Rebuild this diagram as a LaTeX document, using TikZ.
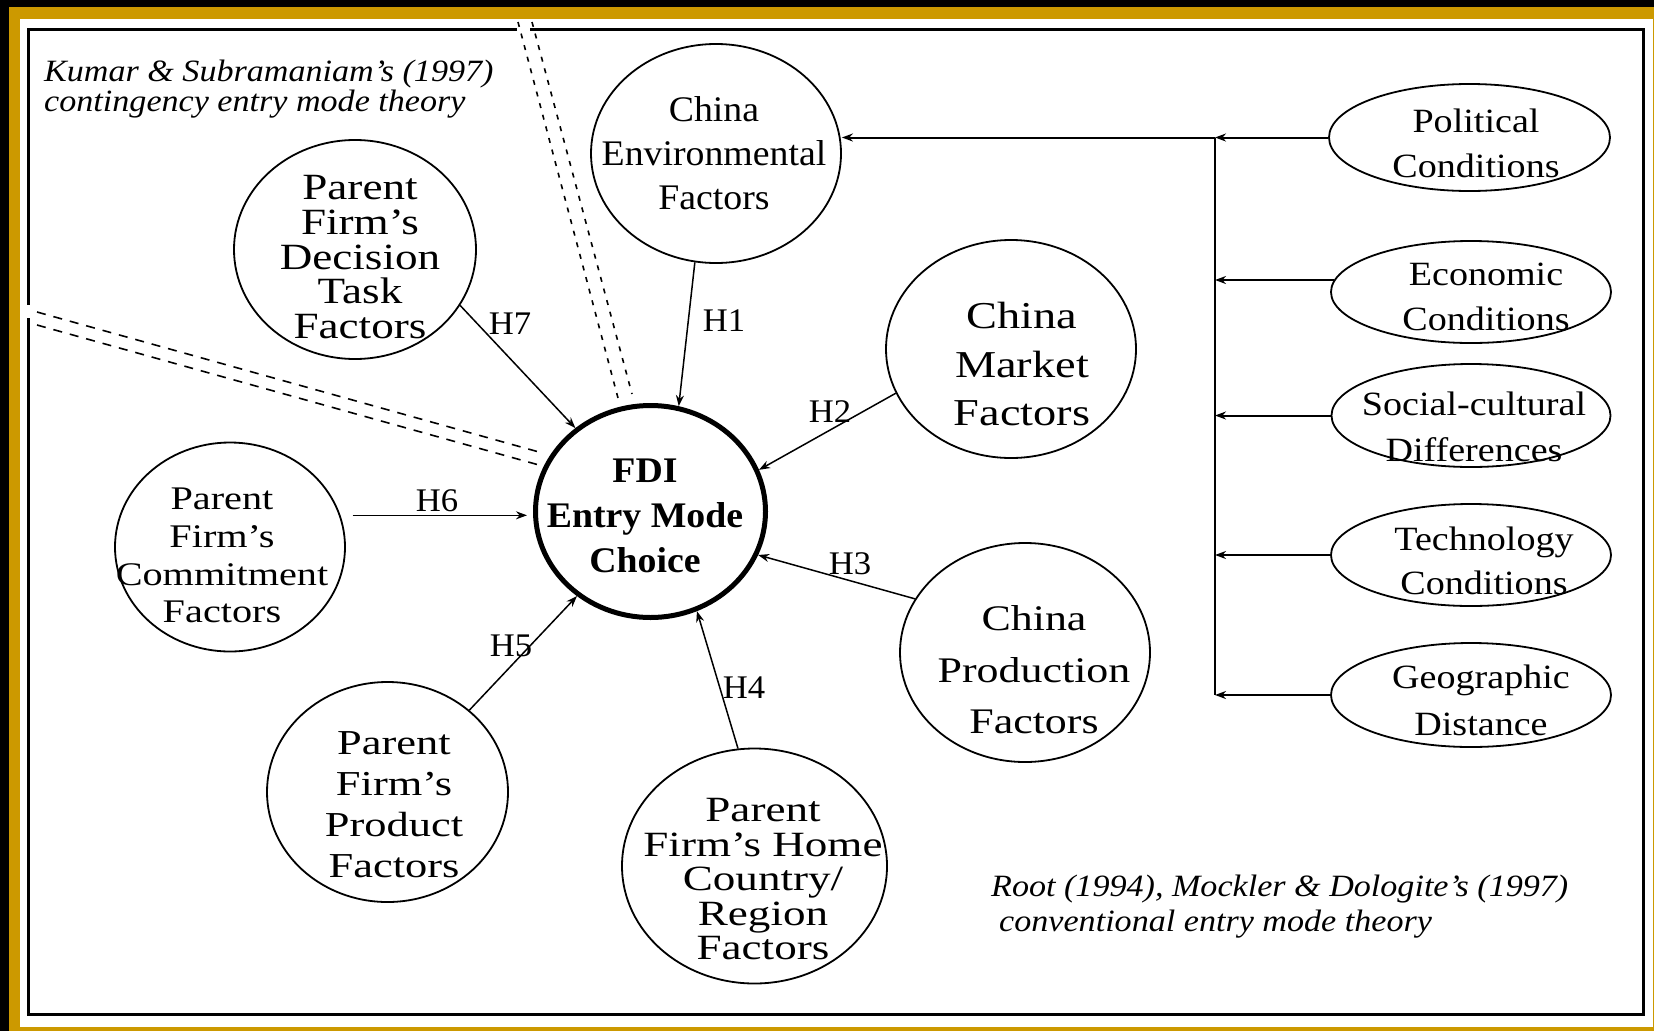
\documentclass[tikz,border=0pt]{standalone}
\usepackage{fontspec}
\setmainfont{Liberation Serif}
\newfontfamily\fA[FakeStretch=1.05]{Liberation Serif}
\newfontfamily\fB[FakeStretch=1.12]{Liberation Serif}
\newfontfamily\fC[FakeStretch=1.22]{Liberation Serif}
\newfontfamily\fD[FakeStretch=1.27]{Liberation Serif}
\newfontfamily\fI[FakeStretch=1.1]{Liberation Serif}
\usetikzlibrary{shapes.geometric,arrows.meta}
\definecolor{gold}{RGB}{204,153,0}
\begin{document}
\begin{tikzpicture}[x=1pt,y=-1pt]
\tikzset{
 ell/.style={draw, ellipse, line width=1.8pt, inner sep=0pt},
 lbl/.style={align=center, inner sep=0pt, anchor=north},
 con/.style={line width=1.5pt, -{Stealth[length=11pt,width=8pt]}},
 hyp/.style={font=\fA\fontsize{33}{33}\selectfont, inner sep=0pt},
 ital/.style={font=\fI\itshape\fontsize{31}{28.5}\selectfont, inner sep=0pt, anchor=base west},
 dotline/.style={line width=1.6pt, dash pattern=on 5pt off 7pt},
 dashline/.style={line width=1.6pt, dash pattern=on 9pt off 8pt},
}
\useasboundingbox (0,0) rectangle (1654,1031);
% frame
\fill[black] (0,0) rectangle (1654,1031);
\fill[gold] (9,7) rectangle (1654,1031);
\fill[white] (20,19) rectangle (1653,1027);
\draw[line width=2.6pt] (517,29.5) -- (28.5,29.5) -- (28.5,305);
\draw[line width=2.6pt] (28.5,318) -- (28.5,1014.5) -- (1643.5,1014.5) -- (1643.5,29.5) -- (530,29.5);

% theory captions
\node[ital] (kumA) at (44,81) {Kumar \& Subramaniam’s (1997)};
\node[ital] (kumB) at (44,111.5) {contingency entry mode theory};
\node[ital] (rootA) at (991,896) {Root (1994), Mockler \& Dologite’s (1997)};
\node[ital] (rootB) at (999,931) {conventional entry mode theory};

% dotted / dashed boundary lines
\coordinate (a1) at (518,22);  \coordinate (a2) at (618,398);
\coordinate (b1) at (532,22);  \coordinate (b2) at (632,394);
\coordinate (c1) at (37,312);  \coordinate (c2) at (539,452);
\coordinate (d1) at (37,325);  \coordinate (d2) at (539,465);
\draw[dotline] (a1) -- (a2);
\draw[dotline] (b1) -- (b2);
\draw[dashline] (c1) -- (c2);
\draw[dashline] (d1) -- (d2);

% ellipses
\node[ell, line width=5pt, minimum width=230pt, minimum height=212pt] (fdi) at (650.5,511.5) {};
\node[ell, minimum width=250pt, minimum height=219pt] (envE) at (716,153.5) {};
\node[ell, minimum width=242pt, minimum height=219pt] (dec) at (355,249.5) {};
\node[ell, minimum width=230pt, minimum height=209pt] (com) at (230,547) {};
\node[ell, minimum width=241pt, minimum height=220pt] (prod) at (387.5,792) {};
\node[ell, minimum width=265pt, minimum height=235pt] (home) at (754.5,866) {};
\node[ell, minimum width=250pt, minimum height=218pt] (mkt) at (1011,349) {};
\node[ell, minimum width=250pt, minimum height=219pt] (prdC) at (1025,652.5) {};
\node[ell, minimum width=281pt, minimum height=107pt] (pol) at (1469.5,137.5) {};
\node[ell, minimum width=280pt, minimum height=102pt] (eco) at (1471,292) {};
\node[ell, minimum width=279pt, minimum height=103pt] (soc) at (1471,415.5) {};
\node[ell, minimum width=280pt, minimum height=102pt] (tech) at (1471,555) {};
\node[ell, minimum width=280pt, minimum height=104pt] (geo) at (1471,695) {};

% texts
\node[lbl, font=\fA\bfseries\fontsize{36}{45}\selectfont] (fdiT) at (645,458.7) {FDI\\Entry Mode\\Choice};
\node[lbl, font=\fA\fontsize{36}{44}\selectfont] (envT) at (714,96.4) {China\\Environmental\\Factors};
\node[lbl, font=\fC\fontsize{37}{34.6}\selectfont] (decT) at (360,175.5) {Parent\\Firm’s\\Decision\\Task\\Factors};
\node[lbl, font=\fC\fontsize{33}{37.7}\selectfont] (comT) at (222,488) {Parent\\Firm’s\\Commitment\\Factors};
\node[lbl, font=\fD\fontsize{35}{40.7}\selectfont] (prodT) at (394,731.8) {Parent\\Firm’s\\Product\\Factors};
\node[lbl, font=\fD\fontsize{35.5}{34.5}\selectfont] (homeT) at (763,798.5) {Parent\\Firm’s Home\\Country/\\Region\\Factors};
\node[lbl, font=\fC\fontsize{38}{48.5}\selectfont] (mktT) at (1022,302) {China\\Market\\Factors};
\node[lbl, font=\fC\fontsize{36}{51.5}\selectfont] (prdCT) at (1034,605.4) {China\\Production\\Factors};
\node[lbl, font=\fB\fontsize{34}{45}\selectfont] (polT) at (1476,108.8) {Political\\Conditions};
\node[lbl, font=\fB\fontsize{34}{45}\selectfont] (ecoT) at (1486,262.8) {Economic\\Conditions};
\node[lbl, font=\fB\fontsize{34}{46}\selectfont] (socT) at (1474,391.8) {Social-cultural\\Differences};
\node[lbl, font=\fB\fontsize{34}{44}\selectfont] (techT) at (1484,526.8) {Technology\\Conditions};
\node[lbl, font=\fB\fontsize{34}{47}\selectfont] (geoT) at (1481,664.8) {Geographic\\Distance};

% bus on the right
\coordinate (bus1) at (1215,137.5);
\coordinate (bus2) at (1215,695);
\draw[line width=2pt] (bus1) -- (bus2);
\draw[con, line width=2pt] (bus1) -- (envE.east |- bus1);
\draw[con, line width=2pt] (pol.west) -- (pol.west -| bus1);
\draw[con, line width=2pt] (eco.175) -- (eco.175 -| bus1);
\draw[con, line width=2pt] (soc.west) -- (soc.west -| bus1);
\draw[con, line width=2pt] (tech.west) -- (tech.west -| bus1);
\draw[con, line width=2pt] (geo.west) -- (geo.west -| bus1);

% hypotheses
\draw[con] (envE.259) -- (fdi.75);
\draw[con] (dec.332) -- (fdi.132);
\draw[con] (mkt.201) -- (fdi.21);
\draw[con, shorten <=12pt, shorten >=6pt] (com.16) -- (com.16 -| fdi.west);
\draw[con] (prdC.154) -- (fdi.338);
\draw[con] (prod.45) -- (fdi.229);
\draw[con] (home.98) -- (fdi.295);

\node[hyp] (h1) at (724,321) {H1};
\node[hyp] (h7) at (510,324) {H7};
\node[hyp] (h2) at (830,412) {H2};
\node[hyp] (h6) at (437,501) {H6};
\node[hyp] (h3) at (850,564) {H3};
\node[hyp] (h5) at (511,646) {H5};
\node[hyp] (h4) at (744,688) {H4};
\end{tikzpicture}
\end{document}
